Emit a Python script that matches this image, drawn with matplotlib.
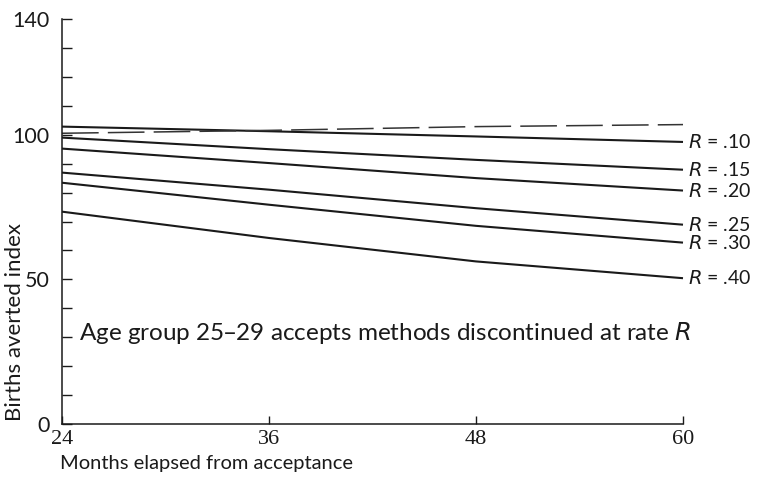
import matplotlib
matplotlib.use("Agg")
import matplotlib.pyplot as plt

months = [24, 36, 48, 60]
rate_labels = [".10", ".15", ".20", ".25", ".30", ".40"]
series = {
    ".10": [102.8, 101.2, 99.4, 97.5],
    ".15": [99.0, 95.0, 91.3, 87.9],
    ".20": [95.2, 90.2, 85.0, 80.7],
    ".25": [86.9, 81.0, 74.6, 68.9],
    ".30": [83.4, 75.8, 68.5, 62.7],
    ".40": [73.4, 64.3, 56.2, 50.4],
}
reference_dashed = [100.5, 101.5, 102.8, 103.5]
y_labeled_ticks = [0, 50, 100, 140]
y_minor_ticks = list(range(0, 141, 10))
x_ticks = [24, 36, 48, 60]

SANS = ["Lato", "DejaVu Sans"]
SERIF = ["Liberation Serif", "DejaVu Serif"]
INK = "#1a1a1a"

fig = plt.figure(figsize=(7.61, 4.79), dpi=100)
ax = fig.add_axes([62 / 761, 1 - 424 / 479, (683 - 62) / 761, (424 - 19) / 479])

for key in rate_labels:
    ax.plot(months, series[key], color=INK, lw=1.5, clip_on=False, solid_capstyle="butt")
    ax.text(60.3, series[key][-1], "$\\mathit{R}$ = " + key, fontsize=14,
            family=SANS, color=INK, va="center", ha="left")
ax.plot(months, reference_dashed, color="#333333", lw=1.1, dashes=(24, 6), clip_on=False)

ax.set_xlim(24, 60)
ax.set_ylim(0, 140)
for s in ["top", "right"]:
    ax.spines[s].set_visible(False)
for s in ["left", "bottom"]:
    ax.spines[s].set_color(INK)
    ax.spines[s].set_linewidth(1.1)

ax.set_yticks(y_minor_ticks)
ax.set_yticklabels([str(v) if v in y_labeled_ticks else "" for v in y_minor_ticks],
                   family=SANS, fontsize=15.5, color=INK)
ax.tick_params(axis="y", direction="in", length=7, width=1.0, pad=9, colors=INK)

ax.set_xticks(x_ticks)
ax.set_xticklabels([str(v) for v in x_ticks], family=SERIF, fontsize=16, color=INK)
ax.tick_params(axis="x", direction="in", length=6, width=1.0, pad=4, colors=INK)

ax.text(25.0, 31.5, "Age group 25\u201329 accepts methods discontinued at rate $\\mathit{R}$",
        fontsize=17.5, family=SANS, color=INK, va="center", ha="left")

fig.text(60 / 761, 1 - 463 / 479, "Months elapsed from acceptance", fontsize=14.5,
         family=SANS, color=INK, va="center", ha="left")
fig.text(15 / 761, 1 - 322 / 479, "Births averted index", fontsize=16, rotation=90,
         family=SANS, color=INK, va="center", ha="center")

fig.savefig("out.png", dpi=100)
